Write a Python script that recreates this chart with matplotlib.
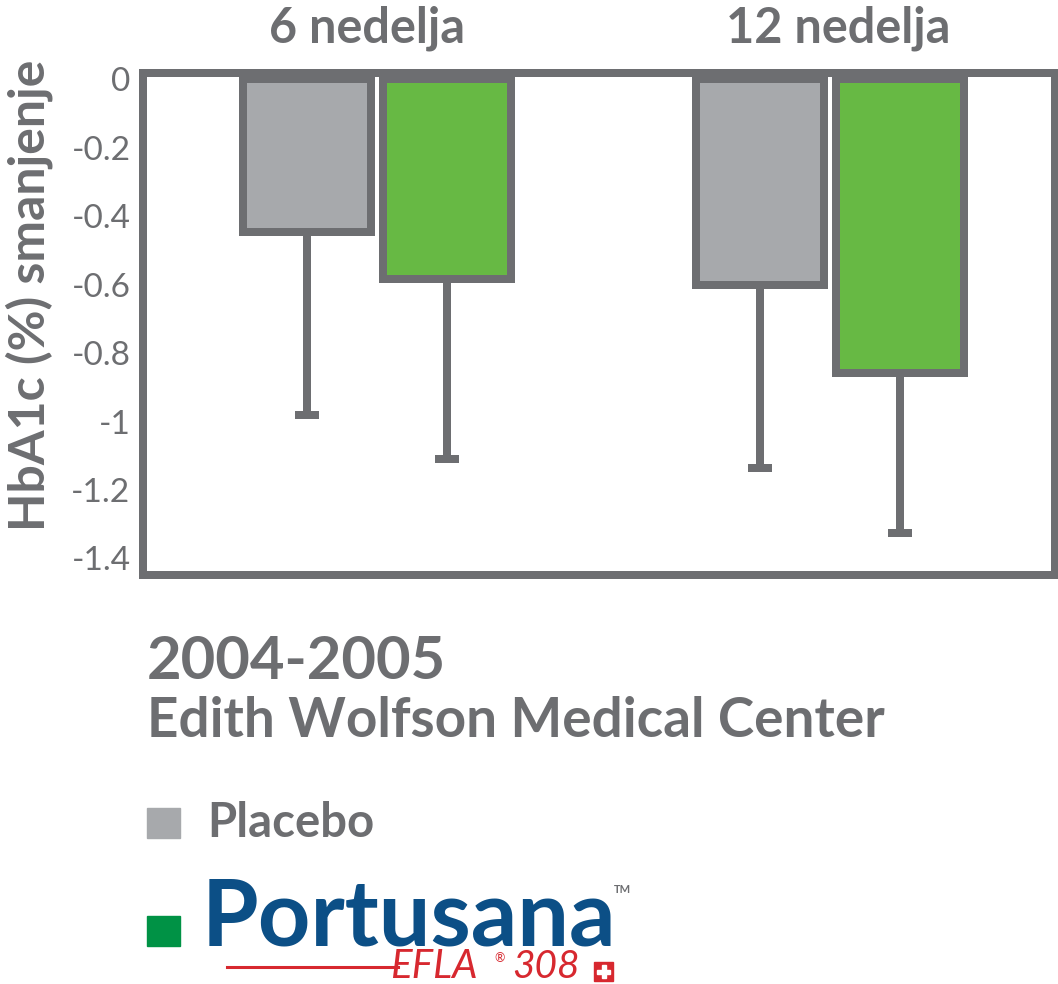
import matplotlib
matplotlib.use("Agg")
import matplotlib.pyplot as plt
import matplotlib.transforms as mtransforms
from matplotlib.patches import Rectangle
import numpy as np

# data
weeks = ["6 nedelja", "12 nedelja"]
placebo = [-0.446, -0.602]
portusana = [-0.583, -0.857]
placebo_err = [0.535, 0.535]      # lower error only
portusana_err = [0.527, 0.468]
yticks = [0, -0.2, -0.4, -0.6, -0.8, -1.0, -1.2, -1.4]
ytick_labels = ["0", "-0.2", "-0.4", "-0.6", "-0.8", "-1", "-1.2", "-1.4"]

GRAY = "#6d6e71"
LIGHT = "#a7a9ac"
GREEN = "#67b944"
BLUE = "#0c4f86"
RED = "#d7282f"
FONT = "Lato"

W, H = 1058, 984
fig = plt.figure(figsize=(W / 100, H / 100), dpi=100)
ax = fig.add_axes([143 / W, 1 - 574.5 / H, (1055 - 143) / W, (574.5 - 73) / H])

lw = 8 * 72 / 100  # 8 px in points
x = np.arange(len(weeks))
off = 0.155
bw = 0.283

ax.errorbar(x - off, placebo, yerr=[placebo_err, [0, 0]], fmt="none", ecolor=GRAY,
            elinewidth=lw, capsize=8.6, capthick=lw, zorder=1)
ax.errorbar(x + off, portusana, yerr=[portusana_err, [0, 0]], fmt="none", ecolor=GRAY,
            elinewidth=lw, capsize=8.6, capthick=lw, zorder=1)
ax.bar(x - off, placebo, bw, color=LIGHT, edgecolor=GRAY, linewidth=lw, zorder=2)
ax.bar(x + off, portusana, bw, color=GREEN, edgecolor=GRAY, linewidth=lw, zorder=2)

ax.set_xlim(-0.517, 1.497)
ax.set_ylim(-1.447, 0.019)
ax.set_xticks([])
ax.set_yticks(yticks)
ax.set_yticklabels(ytick_labels, fontsize=24, color=GRAY, family=FONT)
ax.tick_params(axis="y", length=0, pad=9)
for s in ax.spines.values():
    s.set_linewidth(lw)
    s.set_color(GRAY)
    s.set_zorder(3)

ax.set_ylabel("HbA1c (%) smanjenje", fontsize=36, fontweight="bold", color=GRAY,
              family=FONT)
ax.yaxis.set_label_coords(-0.099, 0.557)

# group titles above the frame
trans = mtransforms.blended_transform_factory(ax.transData, ax.transAxes)
for xi, w in zip([-0.023, 1.019], weeks):
    ax.text(xi, 1.09, w, transform=trans, ha="center", va="center", fontsize=35,
            fontweight="bold", color=GRAY, family=FONT)


def ft(px, py, s, **kw):
    fig.text(px / W, 1 - py / H, s, **kw)


ft(147, 679, "2004-2005", fontsize=43, fontweight="bold", color=GRAY, family=FONT, va="baseline")
ft(147, 737, "Edith Wolfson Medical Center", fontsize=39.5, fontweight="bold", color=GRAY,
   family=FONT, va="baseline")

# legend
fig.patches.append(Rectangle((147 / W, 1 - 838 / H), 33 / W, 30 / H, transform=fig.transFigure,
                             color=LIGHT))
ft(207, 837, "Placebo", fontsize=34, fontweight="bold", color=GRAY, family=FONT, va="baseline")

fig.patches.append(Rectangle((147 / W, 1 - 946 / H), 33 / W, 30 / H, transform=fig.transFigure,
                             color="#009245"))
ft(202, 946, "Portusana", fontsize=66, fontweight="bold", color=BLUE, family=FONT, va="baseline")
ft(614, 893, "TM", fontsize=8, fontweight="bold", color=GRAY, family=FONT, va="baseline")

# EFLA 308 mark
fig.add_artist(plt.Line2D([227 / W, 398 / W], [1 - 967 / H, 1 - 967 / H], color=RED, lw=2.2,
                          transform=fig.transFigure))
ft(390, 978, "EFLA", fontsize=29, style="italic", color=RED, family=FONT, va="baseline")
ft(494, 962, "®", fontsize=9, color=RED, family=FONT, va="baseline")
ft(512, 978, "308", fontsize=28, style="italic", color=RED, family=FONT, va="baseline")
fig.patches.append(Rectangle((594 / W, 1 - 981 / H), 19 / W, 19 / H, transform=fig.transFigure,
                             color=RED))
fig.patches.append(Rectangle((597 / W, 1 - 973.5 / H), 13 / W, 4 / H, transform=fig.transFigure,
                             color="white"))
fig.patches.append(Rectangle((601.5 / W, 1 - 978 / H), 4 / W, 13 / H, transform=fig.transFigure,
                             color="white"))

fig.savefig("out.png", dpi=100)
